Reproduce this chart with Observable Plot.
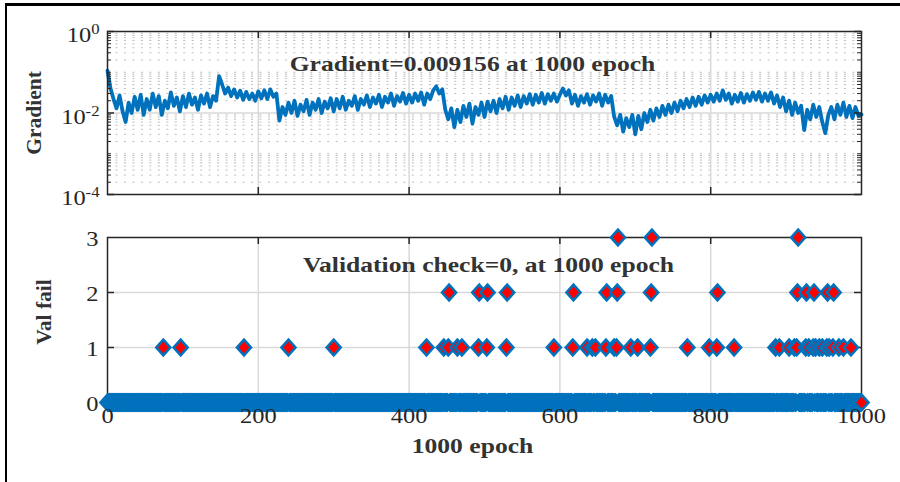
<!DOCTYPE html>
<html><head><meta charset="utf-8">
<script src="https://cdn.jsdelivr.net/npm/d3@7"></script>
<script src="https://cdn.jsdelivr.net/npm/@observablehq/plot@0.6"></script>
<style>
html,body{margin:0;padding:0;background:#fff;}
#fig{position:relative;width:900px;height:482px;overflow:hidden;background:#fff;}
#fig svg{display:block;}
#border{position:absolute;left:5px;top:3px;right:-10px;bottom:-10px;border-top:3px solid #000;border-left:2.5px solid #000;pointer-events:none;}
</style></head><body>
<div id="fig"><div id="border"></div></div>
<script>
// ---- data ----
// gradient, sampled every 4 epochs (0, 4, ..., 1000)
const gradientValues = [
  0.11, 0.04, 0.022, 0.013, 0.027, 0.011, 0.006, 0.018, 0.01, 0.025, 0.012, 0.028, 0.009, 0.022, 0.012, 0.03, 0.014, 0.026, 0.009, 0.02, 0.013, 0.032, 0.015, 0.024, 0.011,
  0.026, 0.014, 0.03, 0.016, 0.024, 0.012, 0.027, 0.017, 0.03, 0.014, 0.026, 0.02, 0.08, 0.05, 0.03, 0.042, 0.026, 0.038, 0.024, 0.035, 0.021, 0.033, 0.022, 0.03, 0.02,
  0.034, 0.023, 0.036, 0.022, 0.038, 0.025, 0.03, 0.0065, 0.014, 0.009, 0.018, 0.01, 0.02, 0.0085, 0.016, 0.011, 0.021, 0.009, 0.018, 0.012, 0.022, 0.01, 0.019, 0.013, 0.023,
  0.011, 0.022, 0.013, 0.025, 0.012, 0.02, 0.015, 0.026, 0.012, 0.022, 0.016, 0.027, 0.014, 0.024, 0.017, 0.028, 0.014, 0.025, 0.018, 0.03, 0.015, 0.026, 0.019, 0.031, 0.017,
  0.028, 0.018, 0.03, 0.02, 0.032, 0.016, 0.03, 0.022, 0.036, 0.045, 0.03, 0.038, 0.012, 0.007, 0.013, 0.0045, 0.012, 0.006, 0.015, 0.008, 0.017, 0.0055, 0.014, 0.009, 0.018,
  0.008, 0.019, 0.011, 0.02, 0.01, 0.022, 0.013, 0.025, 0.012, 0.024, 0.015, 0.027, 0.014, 0.026, 0.017, 0.029, 0.016, 0.028, 0.018, 0.031, 0.017, 0.029, 0.02, 0.03, 0.019,
  0.028, 0.04, 0.027, 0.036, 0.017, 0.028, 0.015, 0.026, 0.018, 0.029, 0.016, 0.027, 0.019, 0.03, 0.015, 0.028, 0.018, 0.026, 0.008, 0.005, 0.009, 0.0035, 0.0075, 0.0045, 0.009,
  0.003, 0.0085, 0.004, 0.01, 0.006, 0.012, 0.0065, 0.013, 0.008, 0.015, 0.009, 0.016, 0.01, 0.018, 0.011, 0.02, 0.013, 0.022, 0.014, 0.024, 0.015, 0.025, 0.016, 0.027, 0.018,
  0.028, 0.019, 0.03, 0.02, 0.036, 0.021, 0.03, 0.017, 0.028, 0.019, 0.031, 0.018, 0.029, 0.02, 0.032, 0.021, 0.033, 0.019, 0.03, 0.02, 0.032, 0.017, 0.027, 0.014, 0.024,
  0.011, 0.02, 0.009, 0.018, 0.01, 0.015, 0.0038, 0.012, 0.007, 0.016, 0.008, 0.014, 0.006, 0.0032, 0.009, 0.014, 0.007, 0.016, 0.009, 0.018, 0.008, 0.015, 0.0075, 0.014, 0.0085,
  0.009156
];
const gradStep = 4;            // epochs between samples above
const lastEpoch = 1000;
const valFail1 = [74, 97, 181, 240, 300, 423, 446, 452, 464, 470, 492, 503, 529, 592, 617, 636, 643, 647, 661, 672, 675, 694, 703, 720, 769, 798, 808, 831, 886, 891, 904, 911, 914, 926, 930, 936, 939, 944, 948, 954, 957, 962, 970, 976, 986];
const valFail2 = [453, 493, 504, 530, 618, 662, 676, 721, 809, 915, 927, 937, 955, 963];
const valFail3 = [677, 722, 916];

const xTicks = [0, 200, 400, 600, 800, 1000];
const xInner = [200, 400, 600, 800];
const gradTicks = [1e-4, 1e-2, 1];
const gradTickLabels = ["10^-4", "10^-2", "10^0"];
const gradMinor = [2e-4,3e-4,4e-4,5e-4,6e-4,7e-4,8e-4,9e-4,1e-3,2e-3,3e-3,4e-3,5e-3,6e-3,7e-3,8e-3,9e-3,
                   2e-2,3e-2,4e-2,5e-2,6e-2,7e-2,8e-2,9e-2,1e-1,2e-1,3e-1,4e-1,5e-1,6e-1,7e-1,8e-1,9e-1];
const valTicks = [0, 1, 2, 3];
const valInner = [1, 2];

const gradTitle = "Gradient=0.009156 at 1000 epoch";
const valTitle = "Validation check=0, at 1000 epoch";
const gradYLabel = "Gradient";
const valYLabel = "Val fail";
const xLabel = "1000 epoch";

// ---- styling ----
const blue = "#0072BD", red = "#FF0000", axisColor = "#262626", gridColor = "#d9d9d9", minorColor = "#bdbdbd";
const FONT = "'Liberation Serif','Times New Roman',serif";
const W = 900, ML = 107, MR = 39, PW = W - ML - MR;

const gradData = gradientValues.map((g, i) => ({epoch: i * gradStep, g}));
const failData = d3.range(0, lastEpoch + 1).map(e => ({
  epoch: e,
  v: valFail3.includes(e) ? 3 : valFail2.includes(e) ? 2 : valFail1.includes(e) ? 1 : 0
}));

const diamond = {
  draw(ctx, size) {
    const h = Math.sqrt(size / Math.PI);
    ctx.moveTo(0, -h * 1.13); ctx.lineTo(h, 0); ctx.lineTo(0, h * 1.13); ctx.lineTo(-h, 0); ctx.closePath();
  }
};

// ---- top panel ----
const H1 = 215, MT1 = 31, MB1 = 21, PH1 = H1 - MT1 - MB1;
const topPlot = Plot.plot({
  width: W, height: H1, marginTop: MT1, marginBottom: MB1, marginLeft: ML, marginRight: MR,
  x: {domain: [0, lastEpoch], axis: null},
  y: {type: "log", domain: [1e-4, 1], axis: null},
  style: {fontFamily: FONT, background: "transparent", overflow: "visible", color: axisColor},
  marks: [
    Plot.ruleY(gradMinor, {y: d => d, stroke: minorColor, strokeWidth: 1, strokeDasharray: "2,6.47"}),
    Plot.ruleX(xInner, {x: d => d, stroke: gridColor, strokeWidth: 1.5}),
    Plot.ruleY([1e-2], {y: d => d, stroke: gridColor, strokeWidth: 1.5}),
    Plot.line(gradData, {x: "epoch", y: "g", stroke: blue, strokeWidth: 3.8, strokeLinejoin: "round"}),
    Plot.frame({stroke: axisColor, strokeWidth: 1.5}),
    Plot.ruleX(xInner, {x: d => d, insetTop: PH1 - 7, stroke: axisColor, strokeWidth: 1.5}),
    Plot.ruleX(xInner, {x: d => d, insetBottom: PH1 - 7, stroke: axisColor, strokeWidth: 1.5}),
    Plot.ruleY(gradTicks, {y: d => d, insetRight: PW - 7, stroke: axisColor, strokeWidth: 1.5}),
    Plot.ruleY(gradTicks, {y: d => d, insetLeft: PW - 7, stroke: axisColor, strokeWidth: 1.5}),
    Plot.ruleY(gradMinor, {y: d => d, insetRight: PW - 4, stroke: axisColor, strokeWidth: 1}),
    Plot.ruleY(gradMinor, {y: d => d, insetLeft: PW - 4, stroke: axisColor, strokeWidth: 1}),
    Plot.text(gradTicks, {y: d => d, text: (d, i) => gradTickLabels[i], frameAnchor: "left", textAnchor: "end", dx: -8, dy: 4, fontSize: 20.5, fill: axisColor}),
    Plot.text([gradTitle], {text: d => d, frameAnchor: "top", textAnchor: "middle", dx: -12, dy: 24, fontSize: 21.5, fontWeight: "bold", fill: "#333"}),
    Plot.text([gradYLabel], {text: d => d, frameAnchor: "left", textAnchor: "middle", rotate: -90, dx: -73, fontSize: 21.5, fontWeight: "bold", fill: "#333"})
  ]
});

// ---- bottom panel ----
const H2 = 267, MT2 = 22, MB2 = 80, PH2 = H2 - MT2 - MB2;
const botPlot = Plot.plot({
  width: W, height: H2, marginTop: MT2, marginBottom: MB2, marginLeft: ML, marginRight: MR,
  x: {domain: [0, lastEpoch], axis: null},
  y: {domain: [0, 3], axis: null},
  style: {fontFamily: FONT, background: "transparent", overflow: "visible", color: axisColor},
  marks: [
    Plot.ruleX(xInner, {x: d => d, stroke: gridColor, strokeWidth: 1.5}),
    Plot.ruleY(valInner, {y: d => d, stroke: gridColor, strokeWidth: 1.5}),
    Plot.frame({stroke: axisColor, strokeWidth: 1.5}),
    Plot.ruleX(xInner, {x: d => d, insetTop: PH2 - 7, stroke: axisColor, strokeWidth: 1.5}),
    Plot.ruleX(xInner, {x: d => d, insetBottom: PH2 - 7, stroke: axisColor, strokeWidth: 1.5}),
    Plot.ruleY(valInner, {y: d => d, insetRight: PW - 7, stroke: axisColor, strokeWidth: 1.5}),
    Plot.ruleY(valInner, {y: d => d, insetLeft: PW - 7, stroke: axisColor, strokeWidth: 1.5}),
    Plot.dot(failData, {x: "epoch", y: "v", r: 7, symbol: diamond, fill: red, stroke: blue, strokeWidth: 2.6}),
    Plot.text(valTicks, {y: d => d, text: d => String(d), frameAnchor: "left", textAnchor: "end", dx: -9, dy: 1.5, fontSize: 20.5, fill: axisColor}),
    Plot.text(xTicks, {x: d => d, text: d => String(d), frameAnchor: "bottom", textAnchor: "middle", dy: 20, fontSize: 20.5, fill: axisColor}),
    Plot.text([valTitle], {text: d => d, frameAnchor: "top", textAnchor: "middle", dx: 4, dy: 19, fontSize: 21.5, fontWeight: "bold", fill: "#333"}),
    Plot.text([valYLabel], {text: d => d, frameAnchor: "left", textAnchor: "middle", rotate: -90, dx: -63, dy: -8, fontSize: 21.5, fontWeight: "bold", fill: "#333"}),
    Plot.text([xLabel], {text: d => d, frameAnchor: "bottom", textAnchor: "middle", dx: -12, dy: 50, fontSize: 21.5, fontWeight: "bold", fill: "#333"})
  ]
});

const fig = document.getElementById("fig");
fig.insertBefore(botPlot, fig.firstChild);
fig.insertBefore(topPlot, fig.firstChild);

// superscripts for the log tick labels
document.querySelectorAll("#fig svg text").forEach(t => {
  const s = t.textContent;
  if (s.includes("^")) {
    const [b, e] = s.split("^");
    t.textContent = b;
    d3.select(t).append("tspan").attr("dy", -8).attr("font-size", 14).text(e);
  }
});
// the reference figure is horizontally stretched: widen horizontal text glyphs
document.querySelectorAll("#fig svg text").forEach(t => {
  const s = t.textContent;
  if (s === gradYLabel || s === valYLabel) return;
  const L = t.getComputedTextLength();
  t.setAttribute("textLength", (L * 1.19).toFixed(1));
  t.setAttribute("lengthAdjust", "spacingAndGlyphs");
});
</script></body></html>
